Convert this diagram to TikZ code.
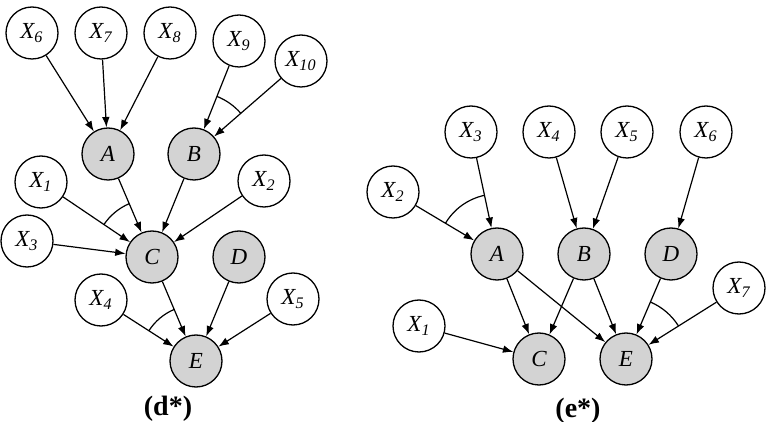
\documentclass[tikz,border=0pt]{standalone}
\usepackage{fontspec}
\setmainfont{Liberation Serif}
\usepackage{tikz}
\usetikzlibrary{
  arrows.meta, positioning, angles
}
\definecolor{nodegray}{RGB}{211,211,211}
\newcommand{\xvar}[1]{X\textsubscript{#1}}

\begin{document}
\begin{tikzpicture}[x=0.5pt,y=-0.5pt,
  varnode/.style={circle,draw,line width=0.65pt,minimum size=26pt,inner sep=0pt,
    font=\fontsize{11.5}{12}\selectfont\itshape},
  hidnode/.style={varnode,fill=nodegray},
  arr/.style={line width=0.6pt,-{Latex[length=5.2pt,width=3.8pt]}},
  andarc/.style={draw,line width=0.6pt},
  caption/.style={font=\fontsize{14}{15}\selectfont\bfseries}]
  \useasboundingbox (0,0) rectangle (766,422);
  % (d*)
  \node[varnode] (dx6) at (32,33) {\xvar{6}};
  \node[varnode] (dx7) at (101,33) {\xvar{7}};
  \node[varnode] (dx8) at (170,33) {\xvar{8}};
  \node[varnode] (dx9) at (239,41) {\xvar{9}};
  \node[varnode] (dx10) at (301,61) {\xvar{10}};
  \node[hidnode] (dA) at (108,154) {A};
  \node[hidnode] (dB) at (194,154) {B};
  \node[varnode] (dx1) at (41,182) {\xvar{1}};
  \node[varnode] (dx2) at (264,181) {\xvar{2}};
  \node[varnode] (dx3) at (27,241) {\xvar{3}};
  \node[hidnode] (dC) at (152,257) {C};
  \node[hidnode] (dD) at (239,257) {D};
  \node[varnode] (dx4) at (101,300) {\xvar{4}};
  \node[varnode] (dx5) at (293,299) {\xvar{5}};
  \node[hidnode] (dE) at (196,361) {E};
  \node[caption] (dcap) at (168,409) {(d*)};
  \foreach \s/\t in {dx6/dA, dx7/dA, dx8/dA, dx9/dB, dx10/dB,
                     dx1/dC, dA/dC, dB/dC, dx2/dC, dx3/dC,
                     dC/dE, dD/dE, dx4/dE, dx5/dE} {
    \draw[arr] (\s) -- (\t);
  }
  \pic[andarc,angle radius=31pt] {angle=dx10--dB--dx9};
  \pic[andarc,angle radius=29pt] {angle=dA--dC--dx1};
  \pic[andarc,angle radius=28pt] {angle=dC--dE--dx4};
  % (e*)
  \node[varnode] (ex3) at (471,132) {\xvar{3}};
  \node[varnode] (ex4) at (549,132) {\xvar{4}};
  \node[varnode] (ex5) at (627,132) {\xvar{5}};
  \node[varnode] (ex6) at (706,132) {\xvar{6}};
  \node[varnode] (ex2) at (393,192) {\xvar{2}};
  \node[hidnode] (eA) at (497,254) {A};
  \node[hidnode] (eB) at (584,254) {B};
  \node[hidnode] (eD) at (671,254) {D};
  \node[varnode] (ex7) at (739,288) {\xvar{7}};
  \node[varnode] (ex1) at (419,326) {\xvar{1}};
  \node[hidnode] (eC) at (539,359) {C};
  \node[hidnode] (eE) at (626,359) {E};
  \node[caption] (ecap) at (578,411) {(e*)};
  \foreach \s/\t in {ex3/eA, ex2/eA, ex4/eB, ex5/eB, ex6/eD,
                     eA/eC, eA/eE, eB/eC, eB/eE, eD/eE,
                     ex7/eE, ex1/eC} {
    \draw[arr] (\s) -- (\t);
  }
  \pic[andarc,angle radius=30pt] {angle=ex3--eA--ex2};
  \pic[andarc,angle radius=31pt] {angle=ex7--eE--eD};
\end{tikzpicture}
\end{document}
